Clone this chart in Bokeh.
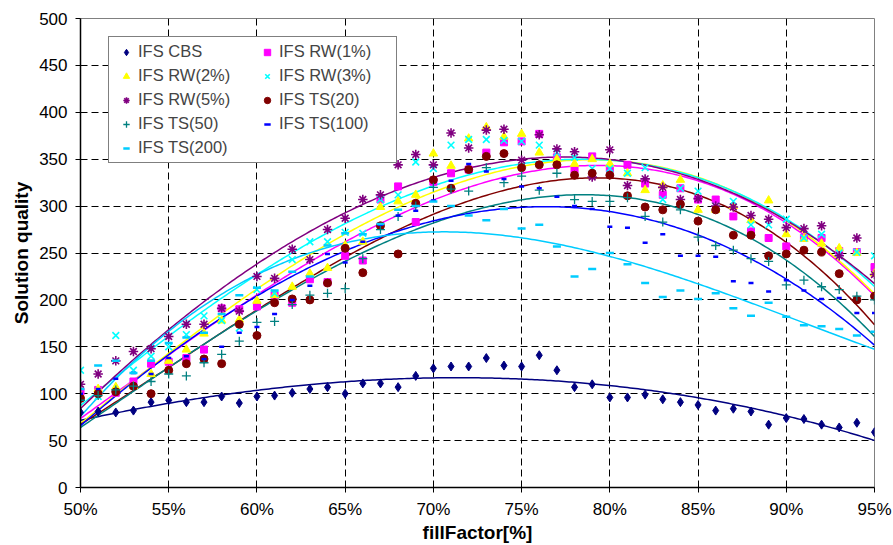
import numpy as np
from bokeh.plotting import figure
from bokeh.models import Range1d, FixedTicker, PrintfTickFormatter, Legend, LegendItem
from bokeh.embed import file_html
from bokeh.resources import INLINE

# fill factor in percent
fill = list(range(50, 96))

series_names = ["IFS CBS", "IFS RW(1%)", "IFS RW(2%)", "IFS RW(3%)", "IFS RW(5%)",
                "IFS TS(20)", "IFS TS(50)", "IFS TS(100)", "IFS TS(200)"]

ifs_cbs = [80, 81, 80, 82, 91, 93, 91, 91, 97, 90,
           97, 98, 101, 105, 107, 100, 111, 111, 107, 119,
           127, 129, 129, 138, 130, 129, 141, 125, 107, 110,
           96, 96, 99, 94, 91, 88, 82, 84, 81, 67,
           74, 73, 67, 64, 69, 59]

ifs_rw1 = [102, 104, 101, 113, 132, 134, 138, 147, 191, 190,
           193, 205, 197, 222, 219, 247, 242, 307, 321, 283,
           326, 335, 339, 357, 368, 369, 377, 352, 339, 353,
           340, 344, 324, 312, 319, 307, 307, 289, 273, 266,
           257, 266, 266, 252, 251, 235]

ifs_rw2 = [98, 105, 107, 108, 121, 135, 147, 164, 178, 179,
           199, 205, 214, 228, 234, 258, 262, 299, 305, 312,
           356, 343, 372, 384, 374, 377, 357, 350, 345, 350,
           345, 335, 317, 322, 328, 296, 296, 300, 285, 306,
           270, 265, 260, 255, 250, 228]

ifs_rw3 = [125, 97, 162, 125, 140, 150, 163, 183, 178, 170,
           211, 207, 243, 262, 262, 272, 271, 307, 312, 347,
           340, 365, 371, 371, 370, 369, 365, 357, 352, 340,
           340, 335, 341, 307, 319, 316, 300, 305, 280, 280,
           286, 266, 270, 250, 251, 247]

ifs_rw5 = [110, 121, 135, 145, 148, 161, 174, 174, 191, 188,
           225, 223, 254, 243, 275, 287, 307, 312, 344, 355,
           344, 378, 362, 381, 382, 349, 376, 361, 358, 331,
           360, 322, 329, 320, 307, 308, 300, 299, 290, 286,
           277, 276, 279, 247, 266, 227]

ifs_ts20 = [95, 100, 102, 108, 100, 125, 132, 137, 132, 174,
            162, 197, 201, 200, 218, 255, 229, 279, 249, 303,
            328, 319, 339, 353, 356, 341, 344, 344, 333, 335,
            333, 311, 299, 296, 302, 284, 296, 269, 269, 247,
            249, 253, 251, 228, 200, 204]

ifs_ts50 = [93, 98, 104, 108, 113, 121, 119, 133, 142, 156,
            176, 177, 195, 205, 207, 212, 244, 275, 289, 300,
            320, 318, 316, 341, 325, 332, 317, 335, 307, 305,
            305, 309, 289, 283, 296, 267, 258, 253, 244, 241,
            216, 221, 214, 211, 204, 200]

ifs_ts100 = [100, 105, 116, 122, 121, 138, 140, 137, 150, 165,
             171, 185, 200, 215, 249, 240, 262, 280, 290, 295,
             306, 327, 345, 337, 329, 321, 319, 310, 300, 297,
             278, 277, 261, 270, 247, 247, 246, 220, 218, 209,
             221, 210, 201, 202, 186, 186]

ifs_ts200 = [105, 130, 135, 122, 135, 154, 160, 165, 185, 205,
             213, 210, 230, 225, 258, 271, 270, 281, 296, 300,
             305, 300, 290, 285, 297, 276, 280, 257, 225, 233,
             250, 238, 218, 203, 210, 201, 207, 191, 183, 197,
             182, 173, 172, 169, 162, 166]

x_ticks = [50, 55, 60, 65, 70, 75, 80, 85, 90, 95]
y_ticks = [0, 50, 100, 150, 200, 250, 300, 350, 400, 450, 500]

series = [ifs_cbs, ifs_rw1, ifs_rw2, ifs_rw3, ifs_rw5, ifs_ts20, ifs_ts50, ifs_ts100, ifs_ts200]
colors = ["#000080", "#FF00FF", "#FFFF00", "#00FFFF", "#800080",
          "#800000", "#008080", "#0000FF", "#00CCFF"]
styles = [
    dict(marker="diamond", size=9, line_width=1),
    dict(marker="square", size=7, line_width=1),
    dict(marker="triangle", size=8.5, line_width=1),
    dict(marker="x", size=9.5, line_width=1.6),
    dict(marker="asterisk", size=9.5, line_width=1.6),
    dict(marker="circle", size=8, line_width=1),
    dict(marker="cross", size=9, line_width=1.3),
    dict(marker="dash", size=5, line_width=2.5),
    dict(marker="dash", size=8, line_width=2.5),
]

FONT = "Liberation Sans"

p = figure(width=893, height=545, output_backend="svg", toolbar_location=None,
           x_range=Range1d(50, 95), y_range=Range1d(0, 500),
           min_border_left=80, min_border_right=19, min_border_top=18, min_border_bottom=57,
           background_fill_color="white", border_fill_color="white")

p.outline_line_color = "#808080"
p.outline_line_width = 1

for ax in (p.xaxis[0], p.yaxis[0]):
    ax.axis_line_color = "black"
    ax.axis_line_width = 1.5
    ax.major_tick_line_color = "black"
    ax.major_tick_out = 5
    ax.major_tick_in = 0
    ax.minor_tick_line_color = None
    ax.major_label_text_font = FONT
    ax.major_label_text_font_size = "17px"
    ax.major_label_text_color = "black"
    ax.axis_label_text_font = FONT
    ax.axis_label_text_font_size = "19px"
    ax.axis_label_text_font_style = "bold"
    ax.axis_label_text_color = "black"

p.xaxis.ticker = FixedTicker(ticks=x_ticks)
p.yaxis.ticker = FixedTicker(ticks=y_ticks)
p.xaxis.formatter = PrintfTickFormatter(format="%d%%")
p.xaxis.axis_label = "fillFactor[%]"
p.yaxis.axis_label = "Solution quality"
p.xaxis.major_label_standoff = 7
p.yaxis.major_label_standoff = 8
p.xaxis.axis_label_standoff = 0
p.yaxis.axis_label_standoff = 4

for g in (p.xgrid[0], p.ygrid[0]):
    g.grid_line_color = "black"
    g.grid_line_dash = "7 4"
    g.grid_line_width = 1

xs_fit = np.linspace(50, 95, 300)
xarr = np.array(fill, dtype=float)
for name, vals, col in zip(series_names, series, colors):
    coef = np.polyfit(xarr, np.array(vals, dtype=float), 3)
    p.line(xs_fit, np.polyval(coef, xs_fit), line_color=col, line_width=1.5)

items_by_name = {}
for name, vals, col, st in zip(series_names, series, colors, styles):
    r = p.scatter(fill, vals, marker=st["marker"], size=st["size"],
                  fill_color=col, line_color=col, line_width=st["line_width"])
    items_by_name[name] = LegendItem(label=name, renderers=[r])

# legend is filled column by column: two columns, five rows
legend_order = ["IFS CBS", "IFS RW(2%)", "IFS RW(5%)", "IFS TS(50)", "IFS TS(200)",
                "IFS RW(1%)", "IFS RW(3%)", "IFS TS(20)", "IFS TS(100)"]

legend = Legend(items=[items_by_name[n] for n in legend_order], ncols=2, location=(28, 324),
                label_text_font=FONT, label_text_font_size="16.5px",
                glyph_width=24, glyph_height=16, label_standoff=0,
                label_height=16, label_width=112, spacing=5, padding=5, margin=0,
                border_line_color="black", border_line_width=1,
                background_fill_color="white", background_fill_alpha=1.0)
p.add_layout(legend)

open("out.html", "w").write(file_html(p, INLINE))
